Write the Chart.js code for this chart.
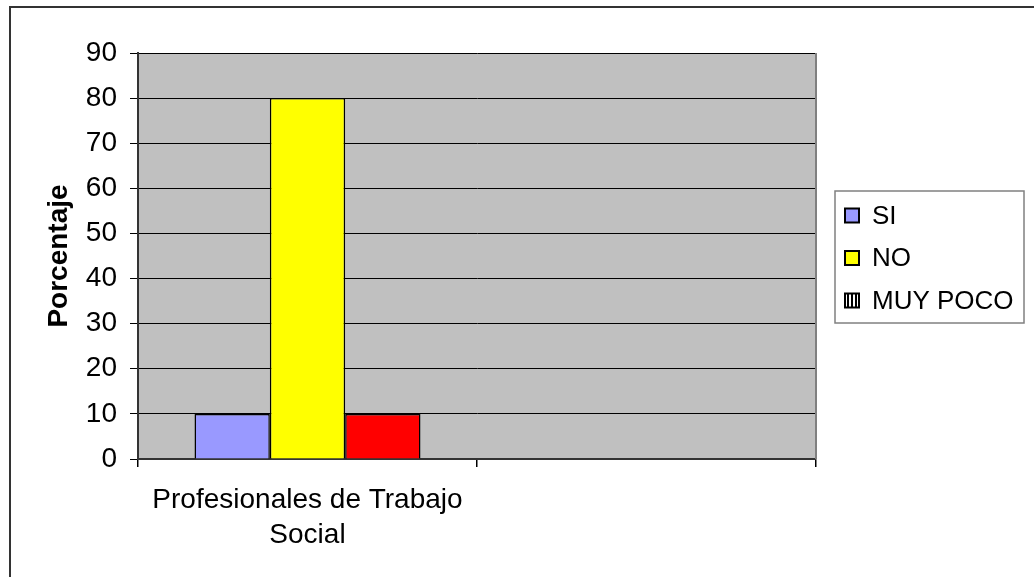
<!DOCTYPE html>
<html>
<head>
<meta charset="utf-8">
<script src="https://cdn.jsdelivr.net/npm/chart.js@4"></script>
<style>
  html, body { margin: 0; padding: 0; background: #fff; }
  #wrap { width: 1034px; height: 577px; }
</style>
</head>
<body>
<div id="wrap"><canvas id="myChart" width="1034" height="577"></canvas></div>
<script>
// data
var categories = [['Profesionales de Trabajo', 'Social'], ''];
var seriesNames = ['SI', 'NO', 'MUY POCO'];
var siValues = [10, null];
var noValues = [80, null];
var muyPocoValues = [10, null];
var yTicks = [0, 10, 20, 30, 40, 50, 60, 70, 80, 90];

var FONT = '"Liberation Sans", Arial, sans-serif';

// gray plot area + outer frame
var backgroundPlugin = {
  id: 'plotBg',
  beforeDraw: function(chart) {
    var ctx = chart.ctx, a = chart.chartArea;
    ctx.save();
    ctx.fillStyle = '#ffffff';
    ctx.fillRect(0, 0, chart.width, chart.height);
    ctx.fillStyle = '#c0c0c0';
    ctx.fillRect(a.left, a.top, a.right - a.left, a.bottom - a.top);
    // outer chart border (top and left only visible)
    ctx.strokeStyle = '#333';
    ctx.lineWidth = 2;
    ctx.beginPath();
    ctx.moveTo(10, chart.height);
    ctx.lineTo(10, 7);
    ctx.lineTo(chart.width, 7);
    ctx.stroke();
    ctx.restore();
  },
  afterDatasetsDraw: function(chart) {
    var ctx = chart.ctx, a = chart.chartArea;
    ctx.save();
    // right border of plot area
    ctx.strokeStyle = '#808080';
    ctx.lineWidth = 2;
    ctx.beginPath();
    ctx.moveTo(a.right, a.top);
    ctx.lineTo(a.right, a.bottom);
    ctx.stroke();
    ctx.restore();
  }
};

// Excel style legend box on the right
var legendBoxPlugin = {
  id: 'legendBox',
  afterDraw: function(chart) {
    var ctx = chart.ctx;
    var x = 835, y = 191, w = 189, h = 132;
    ctx.save();
    ctx.strokeStyle = '#808080';
    ctx.lineWidth = 1.5;
    ctx.strokeRect(x, y, w, h);
    ctx.font = '26px ' + FONT;
    ctx.textBaseline = 'middle';
    chart.data.datasets.forEach(function(ds, i) {
      var cy = 215.5 + i * 42.5;
      var bs = 14, bx = 845, by = cy - bs / 2;
      if (ds.legendStripes) {
        ctx.fillStyle = '#fff';
        ctx.fillRect(bx, by, bs, bs);
        ctx.fillStyle = '#000';
        for (var k = 2; k < bs; k += 4) ctx.fillRect(bx + k, by, 2, bs);
      } else {
        ctx.fillStyle = ds.backgroundColor;
        ctx.fillRect(bx, by, bs, bs);
      }
      ctx.strokeStyle = '#000';
      ctx.lineWidth = 2;
      ctx.strokeRect(bx, by, bs, bs);
      ctx.fillStyle = '#000';
      ctx.fillText(ds.label, 872, cy + 1);
    });
    ctx.restore();
  }
};

var ctx = document.getElementById('myChart').getContext('2d');
var myChart = new Chart(ctx, {
  type: 'bar',
  data: {
    labels: categories,
    datasets: [{
      label: seriesNames[0],
      data: siValues,
      backgroundColor: '#9999ff',
      borderColor: '#000',
      borderWidth: 1.5
    }, {
      label: seriesNames[1],
      data: noValues,
      backgroundColor: '#ffff00',
      borderColor: '#000',
      borderWidth: 1.5
    }, {
      label: seriesNames[2],
      data: muyPocoValues,
      backgroundColor: '#ff0000',
      borderColor: '#000',
      borderWidth: 1.5,
      legendStripes: true
    }]
  },
  options: {
    responsive: false,
    animation: false,
    categoryPercentage: 3 / 4.5,
    barPercentage: 1,
    layout: { padding: { left: 0, right: 218, top: 53, bottom: 0 } },
    plugins: {
      legend: { display: false },
      tooltip: { enabled: false }
    },
    scales: {
      x: {
        offset: true,
        grid: {
          offset: true,
          drawOnChartArea: false,
          color: '#000',
          tickLength: 8,
          lineWidth: 1.5
        },
        border: { color: '#333', width: 2 },
        ticks: {
          color: '#000',
          font: { family: FONT, size: 28, lineHeight: 1.25 },
          padding: 16,
          maxRotation: 0,
          autoSkip: false
        },
        afterFit: function(scale) { scale.height = 118; }
      },
      y: {
        min: 0,
        max: 90,
        afterBuildTicks: function(scale) {
          scale.ticks = yTicks.map(function(v) { return { value: v }; });
        },
        grid: {
          color: '#000',
          lineWidth: 1,
          tickLength: 8
        },
        border: { color: '#333', width: 2 },
        ticks: {
          color: '#000',
          font: { family: FONT, size: 28 },
          padding: 13
        },
        title: {
          display: true,
          text: 'Porcentaje',
          color: '#000',
          font: { family: FONT, size: 28, weight: 'bold' },
          padding: { top: 42, bottom: 0 }
        },
        afterFit: function(scale) { scale.width = 138; }
      }
    }
  },
  plugins: [backgroundPlugin, legendBoxPlugin]
});
</script>
</body>
</html>
